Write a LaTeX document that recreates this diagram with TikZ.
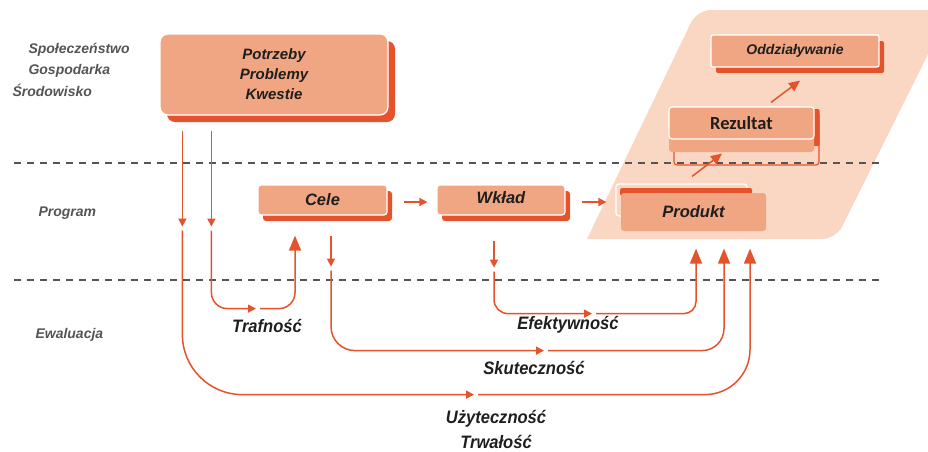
\documentclass[tikz,border=0pt]{standalone}
\usepackage{fontspec}
\setmainfont{Liberation Sans}
\newfontfamily\narrowsans{Liberation Sans}[FakeStretch=0.92]
\newfontfamily\calibrisans{Carlito}
\usetikzlibrary{calc}
\usetikzlibrary{arrows.meta}
\usetikzlibrary{shadows}
\usetikzlibrary{positioning}
\definecolor{salmon}{RGB}{240,166,130}
\definecolor{rust}{RGB}{229,83,44}
\definecolor{peach}{RGB}{250,215,195}
\definecolor{slate}{RGB}{85,85,85}
\definecolor{ink}{RGB}{30,30,30}

\tikzset{
  tipS/.tip={Triangle[length=8pt,width=8pt]},
  tipM/.tip={Triangle[length=11pt,width=10pt]},
  tipL/.tip={Triangle[length=15pt,width=12pt]},
  boxface/.style={fill=salmon, draw=white, line width=1.2pt, rounded corners=3pt,
                  inner sep=0pt, text=ink, font=\bfseries\itshape\fontsize{16.5}{20}\selectfont},
  dropped/.style={drop shadow={shadow xshift=5pt, shadow yshift=-6pt, fill=rust, opacity=1}},
  flow/.style={draw=rust, line width=1.5pt},
  sidelabel/.style={text=slate, anchor=base west, font=\bfseries\itshape\fontsize{14}{17}\selectfont},
  criterion/.style={text=ink, anchor=base, font=\narrowsans\bfseries\itshape\fontsize{18}{25}\selectfont},
  levelline/.style={slate, line width=1.5pt, dash pattern=on 7pt off 6pt}
}

\begin{document}
\begin{tikzpicture}[x=1pt, y=-1pt]
    \useasboundingbox (0,0) rectangle (928,451);
    % Result area
    \fill[peach] (700,239) -- (587,239) [rounded corners=14pt] -- (697,10) -- (950,10) -- (836,239) -- cycle;
    % Levels
    \draw[levelline] (14,163) -- (880,163);
    \draw[levelline] (14,280) -- (880,280);
    % Level labels
    \node[sidelabel] (society) at (25,53) {Społeczeństwo};
    \node[sidelabel] (economy) at (25,74) {Gospodarka};
    \node[sidelabel] (environment) at (9,96) {Środowisko};
    \node[sidelabel] (program) at (35,216) {Program};
    \node[sidelabel] (evaluation) at (32,338) {Ewaluacja};
    % Boxes
    \node[boxface, rounded corners=8pt, drop shadow={shadow xshift=7pt, shadow yshift=-7pt, fill=rust, opacity=1},
          minimum width=228pt, minimum height=81pt, align=center,
          font=\bfseries\itshape\fontsize{15}{20}\selectfont] (needs) at (274,74.5) {Potrzeby\\Problemy\\Kwestie};
    \node[boxface, dropped, minimum width=129pt, minimum height=30pt] (cele) at (322.5,200) {Cele};
    \node[boxface, dropped, minimum width=128pt, minimum height=30pt] (wklad) at (501,200) {\raisebox{4pt}{Wkład}};
    \node[boxface, dropped, rounded corners=2pt, minimum width=168pt, minimum height=32pt,
          font=\bfseries\itshape\fontsize{14}{17}\selectfont] (oddz) at (795,51) {\raisebox{-1pt}{Oddziaływanie}};
    % Rezultat with its frame
    \draw[rust, line width=1.2pt, rounded corners=3pt] (674,112) rectangle (819,165);
    \fill[rust, rounded corners=1.5pt] (812,109) rectangle (819.6,146);
    \fill[salmon, rounded corners=3pt] (669,115) rectangle (814,152);
    \node[boxface, minimum width=145pt, minimum height=32pt,
          font=\calibrisans\bfseries\fontsize{18.5}{21}\selectfont] (rezultat) at (741.5,123) {Rezultat};
    % Produkt with its back sheet
    \draw[white, line width=1.2pt, rounded corners=3pt] (616,184) rectangle (747,216);
    \fill[rust, rounded corners=1.5pt] (620,188) rectangle (752,196);
    \node[boxface, draw=none, minimum width=145pt, minimum height=38pt] (produkt) at (693.5,212) {Produkt};
    % Chain
    \draw[flow, -{tipS}] ($(cele.east)+(16,2)$) -- ($(wklad.west)+(-9,2)$);
    \draw[flow, -{tipS}] ($(wklad.east)+(16,2)$) -- ($(produkt.west)+(-14,-10)$);
    \draw[flow, -{tipM}] ($(produkt.north)+(-1.5,-16)$) -- ($(rezultat.south)+(-19.5,14)$);
    \draw[flow, -{tipM}] ($(rezultat.north)+(29.5,-4)$) -- ($(oddz.south)+(5,13)$);
    % Evaluation loops
    \coordinate (useTop)  at ($(needs.south west)+(23,15)$);
    \coordinate (trafTop) at ($(needs.south west)+(52,15)$);
    \coordinate (skutTop) at ($(cele.south)+(8.5,20)$);
    \coordinate (efekTop) at ($(wklad.south)+(-7,25)$);
    \coordinate (trafCorner) at ($(cele.south)+(-27.5,93)$);
    \coordinate (trafEnd)    at ($(cele.south)+(-27.5,20)$);
    \coordinate (efekCorner) at ($(produkt.south)+(2.5,82)$);
    \coordinate (efekEnd)    at ($(produkt.south)+(2.5,17)$);
    \coordinate (skutCorner) at ($(produkt.south)+(30.5,119)$);
    \coordinate (skutEnd)    at ($(produkt.south)+(30.5,17)$);
    \coordinate (useCorner)  at ($(produkt.south)+(56.5,163)$);
    \coordinate (useEnd)     at ($(produkt.south)+(56.5,17)$);
    % Trafnosc
    \draw[flow, -{tipS}] (trafTop) -- ++(0,96);
    \draw[flow, rounded corners=16pt, -{tipS}] ($(trafTop)+(0,100)$) |- ($(trafCorner)+(-39,0)$);
    \draw[flow, rounded corners=16pt, -{tipL}] ($(trafCorner)+(-35,0)$) -| (trafEnd);
    % Uzytecznosc
    \draw[flow, -{tipS}] (useTop) -- ++(0,96);
    \draw[flow, rounded corners=60pt, -{tipS}] ($(useTop)+(0,100)$) |- ($(useCorner)+(-276,0)$);
    \draw[flow, rounded corners=45pt, -{tipL}] ($(useCorner)+(-272,0)$) -| (useEnd);
    % Skutecznosc
    \draw[flow, -{tipS}] (skutTop) -- ++(0,31);
    \draw[flow, rounded corners=24pt, -{tipS}] ($(skutTop)+(0,35)$) |- ($(skutCorner)+(-180,0)$);
    \draw[flow, rounded corners=22pt, -{tipL}] ($(skutCorner)+(-176,0)$) -| (skutEnd);
    % Efektywnosc
    \draw[flow, -{tipS}] (efekTop) -- ++(0,27);
    \draw[flow, rounded corners=14pt, -{tipS}] ($(efekTop)+(0,31)$) |- ($(efekCorner)+(-104,0)$);
    \draw[flow, rounded corners=12pt, -{tipL}] ($(efekCorner)+(-100,0)$) -| (efekEnd);
    % Criteria
    \node[criterion] (trafnosc) at (267,332) {Trafność};
    \node[criterion] (efektywnosc) at (568,329) {Efektywność};
    \node[criterion] (skutecznosc) at (534,374) {Skuteczność};
    \node[criterion] (uzytecznosc) at (496,423) {Użyteczność};
    \node[criterion] (trwalosc) at (496,448) {Trwałość};
\end{tikzpicture}
\end{document}
